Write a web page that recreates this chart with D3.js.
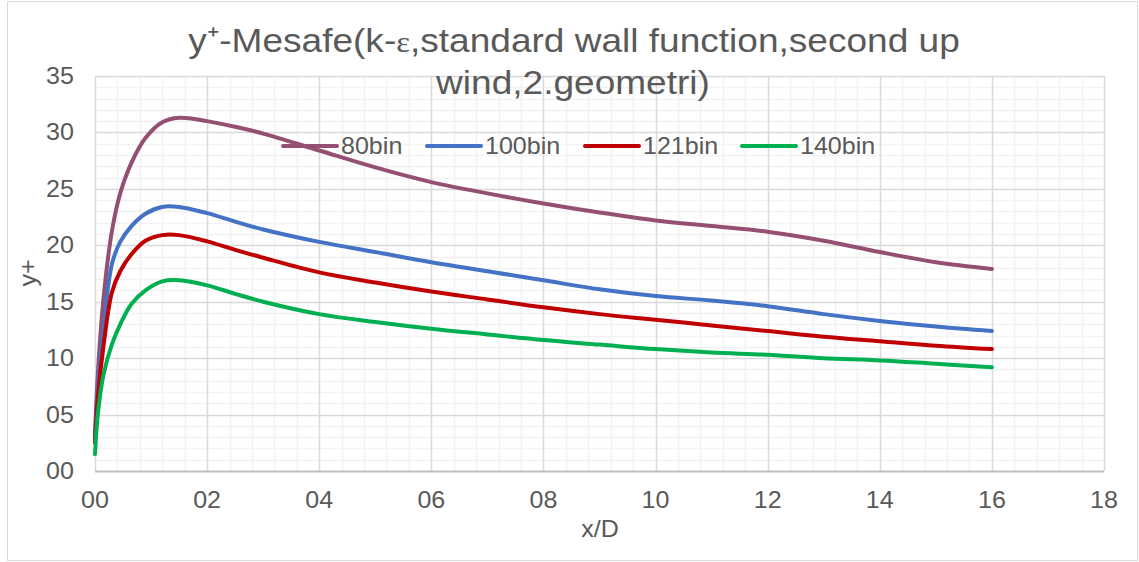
<!DOCTYPE html>
<html>
<head>
<meta charset="utf-8">
<script src="https://cdn.jsdelivr.net/npm/d3@7/dist/d3.min.js"></script>
<style>
  html, body { margin: 0; padding: 0; background: #fff; }
  svg { display: block; }
  text { font-family: "Liberation Sans", Arial, sans-serif; fill: #595959; }
</style>
</head>
<body>
<svg id="chart" width="1139" height="562"></svg>
<script>
// Distance along the wall (x/D) at which y+ was sampled
const xValues = [0, 0.05, 0.15, 0.3, 0.45, 0.65, 0.9, 1.2, 1.5, 2, 2.5, 3, 4, 5, 6, 7, 8, 9, 10, 11, 12, 13, 14, 15, 16];

// y+ for each mesh size
const yPlus80 = [2.8, 8.5, 15.2, 21.2, 24.6, 27.3, 29.5, 30.9, 31.3, 31.0, 30.5, 29.9, 28.4, 26.9, 25.6, 24.6, 23.7, 22.9, 22.2, 21.7, 21.2, 20.4, 19.4, 18.5, 17.9];
const yPlus100 = [3.0, 7.5, 12.5, 18.3, 20.3, 21.7, 22.8, 23.4, 23.4, 22.85, 22.1, 21.4, 20.3, 19.4, 18.5, 17.7, 16.9, 16.1, 15.5, 15.1, 14.6, 13.9, 13.3, 12.8, 12.4];
const yPlus121 = [2.5, 6.5, 11.0, 15.8, 17.7, 19.2, 20.4, 20.9, 20.9, 20.35, 19.6, 18.9, 17.6, 16.7, 15.9, 15.2, 14.5, 13.9, 13.4, 12.9, 12.4, 11.9, 11.5, 11.1, 10.8];
const yPlus140 = [1.5, 5.0, 8.5, 11.2, 13.0, 14.8, 16.0, 16.8, 16.9, 16.45, 15.7, 15.0, 13.9, 13.2, 12.6, 12.1, 11.6, 11.2, 10.8, 10.5, 10.3, 10.0, 9.8, 9.5, 9.2];

const seriesNames = ["80bin", "100bin", "121bin", "140bin"];
const seriesColors = ["#954F72", "#4472C4", "#C00000", "#00B050"];
const seriesValues = [yPlus80, yPlus100, yPlus121, yPlus140];

const xTicks = [0, 2, 4, 6, 8, 10, 12, 14, 16, 18];
const yTicks = [0, 5, 10, 15, 20, 25, 30, 35];

const titleLines = ["y\u207A-Mesafe(k-", "\u03B5", ",standard wall function,second up"];
const titleLine2 = "wind,2.geometri)";
const xTitle = "x/D";
const yTitle = "y+";

const plot = { left: 95, right: 1104, top: 76, bottom: 471 };
const stretch = 1.09; // text is drawn slightly wide

const svg = d3.select("#chart");

// outer chart border
svg.append("rect")
  .attr("x", 7.5).attr("y", 1.5)
  .attr("width", 1130).attr("height", 559)
  .attr("fill", "#fff").attr("stroke", "#d9d9d9").attr("stroke-width", 1);

const x = d3.scaleLinear().domain([0, 18]).range([plot.left, plot.right]);
const y = d3.scaleLinear().domain([0, 35]).range([plot.bottom, plot.top]);

const grid = svg.append("g");
// minor gridlines
const xMinor = d3.range(0, 18.0001, 0.4).filter(v => Math.abs(v / 2 - Math.round(v / 2)) > 1e-6);
const yMinor = d3.range(0, 35.0001, 1).filter(v => v % 5 !== 0);
grid.selectAll("line.xmin").data(xMinor).join("line")
  .attr("x1", d => Math.round(x(d)) + 0.5).attr("x2", d => Math.round(x(d)) + 0.5)
  .attr("y1", plot.top).attr("y2", plot.bottom)
  .attr("stroke", "#f2f2f2").attr("stroke-width", 1.5);
grid.selectAll("line.ymin").data(yMinor).join("line")
  .attr("x1", plot.left).attr("x2", plot.right)
  .attr("y1", d => Math.round(y(d)) + 0.5).attr("y2", d => Math.round(y(d)) + 0.5)
  .attr("stroke", "#f2f2f2").attr("stroke-width", 1.5);
// major gridlines
grid.selectAll("line.xmaj").data(xTicks).join("line")
  .attr("x1", d => Math.round(x(d)) + 0.5).attr("x2", d => Math.round(x(d)) + 0.5)
  .attr("y1", plot.top).attr("y2", plot.bottom)
  .attr("stroke", "#d9d9d9").attr("stroke-width", 1.5);
grid.selectAll("line.ymaj").data(yTicks.filter(v => v > 0)).join("line")
  .attr("x1", plot.left).attr("x2", plot.right)
  .attr("y1", d => Math.round(y(d)) + 0.5).attr("y2", d => Math.round(y(d)) + 0.5)
  .attr("stroke", "#d9d9d9").attr("stroke-width", 1.5);

// horizontal axis line
svg.append("line")
  .attr("x1", plot.left).attr("x2", plot.right)
  .attr("y1", plot.bottom + 0.5).attr("y2", plot.bottom + 0.5)
  .attr("stroke", "#bfbfbf").attr("stroke-width", 2);

const fmt = d3.format("02d");

function stretchedText(g, px, py, str, size, anchor) {
  return g.append("text")
    .attr("transform", `translate(${px},${py}) scale(${stretch},1)`)
    .attr("text-anchor", anchor)
    .attr("font-size", size)
    .text(str);
}

// tick labels
const xAxisG = svg.append("g");
xTicks.forEach(t => stretchedText(xAxisG, x(t), 508, fmt(t), 23, "middle"));
const yAxisG = svg.append("g");
yTicks.forEach(t => stretchedText(yAxisG, 74, y(t) + 8, fmt(t), 23, "end"));

// axis titles
stretchedText(svg, 600, 537, xTitle, 23, "middle");
svg.append("text")
  .attr("transform", `translate(36,273) rotate(-90) scale(${stretch},1)`)
  .attr("text-anchor", "middle")
  .attr("font-size", 23)
  .text(yTitle);

// series lines, smoothed
const line = d3.line()
  .x((d, i) => x(xValues[i]))
  .y(d => y(d))
  .curve(d3.curveCatmullRom.alpha(0.5));

svg.append("g").selectAll("path").data(seriesValues).join("path")
  .attr("d", d => line(d))
  .attr("fill", "none")
  .attr("stroke", (d, i) => seriesColors[i])
  .attr("stroke-width", 4)
  .attr("stroke-linecap", "round")
  .attr("stroke-linejoin", "round");

// title
const t1 = svg.append("text")
  .attr("transform", `translate(574,52) scale(${stretch},1)`)
  .attr("text-anchor", "middle")
  .attr("font-size", 34);
t1.append("tspan").text(titleLines[0]);
t1.append("tspan").attr("font-family", "Liberation Serif, serif").attr("font-size", 30).text(titleLines[1]);
t1.append("tspan").text(titleLines[2]);
stretchedText(svg, 573, 94, titleLine2, 34, "middle");

// legend
const legendX = [283, 427, 585, 742];
const legend = svg.append("g");
seriesNames.forEach((name, i) => {
  legend.append("line")
    .attr("x1", legendX[i]).attr("x2", legendX[i] + 54)
    .attr("y1", 146).attr("y2", 146)
    .attr("stroke", seriesColors[i]).attr("stroke-width", 4)
    .attr("stroke-linecap", "round");
  stretchedText(legend, legendX[i] + 58, 154, name, 23, "start");
});
</script>
</body>
</html>
